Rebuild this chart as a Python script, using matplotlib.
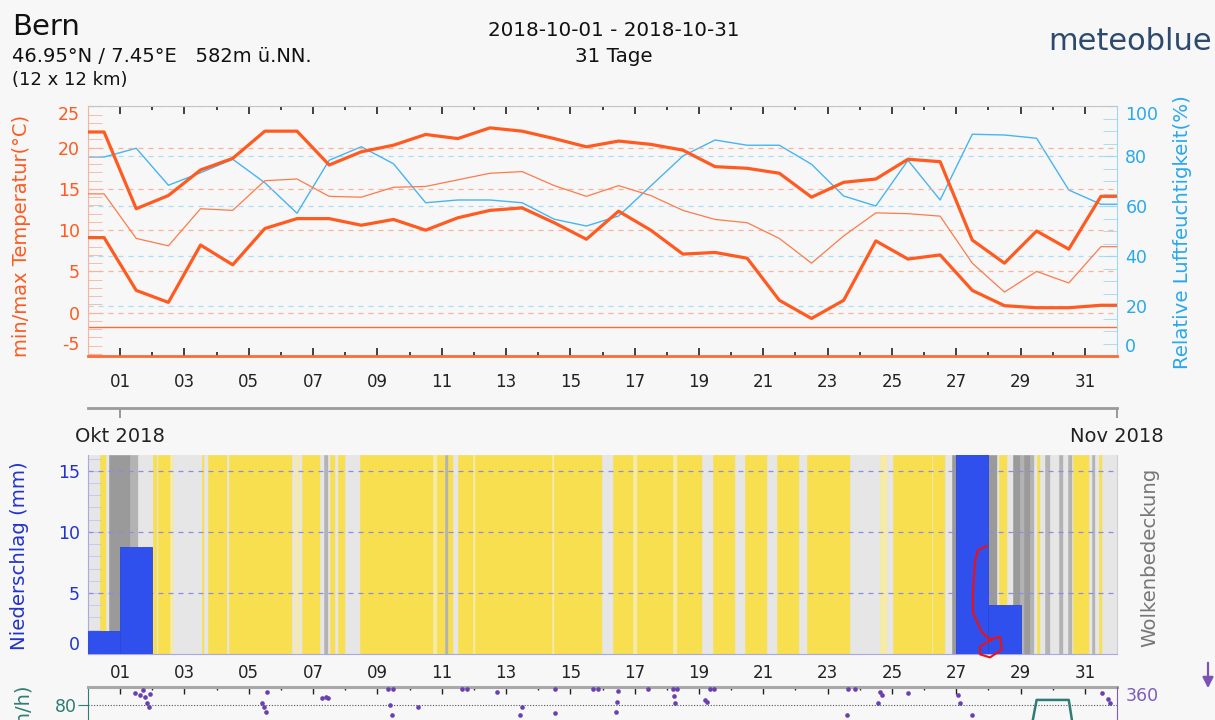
"""Bern, October 2018 - meteoblue style history chart."""
import matplotlib
matplotlib.use("Agg")
import matplotlib.pyplot as plt
from matplotlib.patches import FancyArrowPatch
from matplotlib.ticker import FixedLocator, MultipleLocator

W, H = 1215, 720
BG = "#f7f7f7"

# ── data: daily values (30 Sep .. 31 Oct 2018, plotted at noon) ─────────────
temp_max = [21.9, 12.6, 14.2, 17.3, 18.7, 22.0, 22.0, 17.9, 19.5, 20.3, 21.6,
            21.1, 22.4, 22.0, 21.1, 20.1, 20.8, 20.4, 19.7, 17.7, 17.5, 16.9,
            14.0, 15.8, 16.2, 18.6, 18.3, 8.8, 6.0, 9.9, 7.7, 14.1]
temp_min = [9.1, 2.7, 1.25, 8.2, 5.8, 10.2, 11.4, 11.4, 10.6, 11.3, 10.0,
            11.5, 12.4, 12.7, 10.9, 8.9, 12.3, 10.0, 7.1, 7.3, 6.6, 1.5,
            -0.7, 1.5, 8.7, 6.5, 7.0, 2.7, 0.85, 0.6, 0.6, 0.9]
temp_mean = [14.4, 9.0, 8.1, 12.6, 12.4, 16.0, 16.2, 14.1, 14.0, 15.2, 15.3,
             16.1, 16.9, 17.1, 15.4, 14.1, 15.4, 14.2, 12.4, 11.3, 10.9, 9.0,
             6.0, 9.3, 12.1, 12.0, 11.7, 6.0, 2.5, 5.0, 3.6, 8.0]
humidity = [79.6, 83.1, 68.3, 73.3, 78.7, 69.3, 57.1, 78.3, 83.7, 76.9, 61.3,
            62.4, 62.4, 61.3, 54.7, 52.0, 56.0, 68.0, 80.0, 86.4, 84.3, 84.3,
            76.7, 64.0, 60.0, 78.3, 62.4, 88.7, 88.4, 87.1, 66.4, 60.7]
# daily precipitation sums, bar spans day d .. d+1
precip = [1.9, 8.8, 0, 0, 0, 0, 0, 0, 0, 0, 0, 0, 0, 0, 0, 0, 0, 0, 0, 0, 0,
          0, 0, 0, 0, 0, 0, 19.0, 4.0, 0, 0, 0]
wind_max = [22, 30, 18, 15, 12, 14, 16, 13, 12, 14, 16, 15, 12, 13, 14, 12,
            15, 14, 13, 16, 15, 14, 17, 15, 22, 18, 16, 25, 30, 81.5, 81.5, 20]
wind_dir_day = [1.46, 1.62, 1.77, 1.93, 1.71, 1.83, 1.90, 5.57, 5.41, 5.47,
                5.53, 7.28, 7.40, 7.46, 9.33, 9.48, 9.39, 9.45, 10.26, 11.63,
                11.78, 12.72, 13.43, 13.50, 14.52, 14.52, 15.70, 15.86, 16.48,
                16.45, 16.42, 17.41, 18.19, 18.31, 18.22, 18.25, 19.19, 19.25,
                19.34, 19.47, 23.60, 23.63, 23.85, 24.63, 24.69, 24.56, 25.50,
                27.05, 27.11, 27.49, 31.53, 31.78, 31.72]
wind_dir_deg = [352, 350, 347, 351, 356, 340, 335, 354, 340, 335,
                328, 346, 347, 346, 357, 357, 337, 324, 335, 357,
                357, 354, 324, 335, 357, 327, 357, 357, 355,
                341, 328, 357, 357, 357, 348, 340, 343, 341,
                357, 357, 324, 357, 357, 354, 350, 340, 352,
                350, 340, 324, 352, 340, 345]

# cloud cover stripes: start day and class (Y clear, P thin, L light, M, D dark)
cloud_start = [0.00, 0.37, 0.56, 0.65, 1.31, 1.55, 2.02, 2.15, 2.18, 2.55,
               2.64, 3.54, 3.60, 3.73, 4.32, 4.38, 6.34, 6.45, 6.55, 6.65,
               7.21, 7.34, 7.46, 7.53, 7.68, 7.77, 7.99, 8.46, 10.73, 10.85,
               11.10, 11.20, 11.35, 11.50, 11.97, 12.03, 14.43, 14.48, 15.98,
               16.33, 16.95, 17.07, 18.19, 18.31, 19.10, 19.43, 20.12, 20.43,
               21.11, 21.42, 22.11, 22.36, 23.69, 24.63, 24.84, 25.03, 26.24,
               26.29, 26.65, 26.87, 28.26, 28.33, 28.58, 28.76, 28.98, 29.10,
               29.29, 29.42, 29.51, 29.60, 29.76, 29.91, 30.19, 30.32, 30.47,
               30.60, 30.63, 31.13, 31.22, 31.31, 31.44, 31.53]
cloud_kind = ["L", "Y", "L", "D", "M", "L", "Y", "L", "Y", "P",
              "L", "Y", "L", "Y", "L", "Y", "L", "P", "L", "Y",
              "L", "M", "L", "Y", "L", "Y", "L", "Y", "P", "Y",
              "M", "Y", "L", "Y", "P", "Y", "P", "Y", "L",
              "Y", "P", "Y", "P", "Y", "L", "Y", "L", "Y",
              "L", "Y", "L", "Y", "L", "P", "L", "Y", "P",
              "Y", "L", "D", "L", "Y", "L", "D", "M", "D",
              "M", "L", "Y", "L", "M", "L", "M", "L", "M",
              "L", "Y", "L", "M", "L", "Y", "L"]

# hand-drawn red mark in the precipitation panel
mark_x = [27.95, 27.67, 27.58, 27.52, 27.52, 27.80, 28.05, 28.36, 28.42, 28.05,
          27.74, 27.74, 28.11]
mark_y = [8.85, 8.5, 7.5, 5.0, 3.4, 1.77, 1.19, 1.43, 0.37, -0.28, -0.03, 0.62,
          1.19]

odd_days = list(range(1, 32, 2))
even_days = list(range(2, 32, 2))
day_labels = [f"{d:02d}" for d in odd_days]


def px_rect(x0, y0, x1, y1):
    return [x0 / W, 1 - y1 / H, (x1 - x0) / W, (y1 - y0) / H]


def extend(vals):
    # meteoblue carries the first / last daily value out to the frame edges
    return [vals[0]] + list(vals) + [vals[-1]]


days_mid = [k + 0.5 for k in range(len(temp_max))]
xs = [0] + days_mid + [32]

fig = plt.figure(figsize=(W / 100, H / 100), dpi=100, facecolor=BG)

# ── header ──────────────────────────────────────────────────────────────────
fig.text(12 / W, 1 - 27 / H, "Bern", fontsize=21, va="center", color="#111")
fig.text(12 / W, 1 - 57 / H, "46.95°N / 7.45°E   582m ü.NN.", fontsize=14,
         va="center", color="#111")
fig.text(12 / W, 1 - 80 / H, "(12 x 12 km)", fontsize=13, va="center", color="#111")
fig.text(614 / W, 1 - 31 / H, "2018-10-01 - 2018-10-31", fontsize=14.3,
         ha="center", va="center", color="#111")
fig.text(614 / W, 1 - 56 / H, "31 Tage", fontsize=14.3, ha="center", va="center",
         color="#111")
fig.text(1212 / W, 1 - 41 / H, "meteoblue", fontsize=22, ha="right",
         va="center", color="#2c4a6e")

# ── panel 1: temperature + humidity ─────────────────────────────────────────
T_COL = "#ff5a1f"
H_COL = "#2aa8ec"
ax_h = fig.add_axes(px_rect(88, 106, 1117, 356), facecolor=BG)
ax_t = fig.add_axes(px_rect(88, 106, 1117, 356), sharex=ax_h)
ax_t.set_zorder(ax_h.get_zorder() + 1)
ax_t.patch.set_visible(False)

ax_t.set_xlim(0, 32)
ax_t.set_ylim(-5.25, 25.05)
ax_h.set_ylim(0, 100)

for v in [0, 5, 10, 15, 20]:
    ax_t.axhline(v, color="#f9b39a", ls=(0, (4, 4)), lw=0.9, zorder=1)
for v in [20, 40, 60, 80, 100]:
    ax_h.axhline(v, color="#a9dcf6", ls=(0, (4, 4)), lw=0.9, zorder=1)
ax_t.axhline(-1.7, color="#ff6a35", lw=1.0, zorder=1)

ax_h.plot(xs, extend(humidity), color="#48b4f0", lw=1.0, zorder=3)
ax_t.plot(xs, extend(temp_mean), color="#ff7a4a", lw=0.9, zorder=3)
ax_t.plot(xs, extend(temp_max), color=T_COL, lw=2.3, zorder=4,
          solid_joinstyle="round")
ax_t.plot(xs, extend(temp_min), color=T_COL, lw=2.3, zorder=4,
          solid_joinstyle="round")

ax_h.yaxis.tick_right()
ax_h.xaxis.set_visible(False)
for s in ax_h.spines.values():
    s.set_visible(False)

ax_t.spines["left"].set_color("#f8b39c")
ax_t.spines["right"].set_color("#a0d8f2")
ax_t.spines["top"].set_color("#c4c4c4")
ax_t.spines["bottom"].set_color("#ff6a35")
ax_t.spines["bottom"].set_linewidth(2.0)

ax_t.set_yticks([-5, 0, 5, 10, 15, 20, 25])
ax_t.set_yticklabels(["-5", "0", "5", "10", "15", "20", "25"])
ax_t.yaxis.set_minor_locator(MultipleLocator(1))
ax_t.tick_params(axis="y", which="both", direction="in", length=10,
                 color="#f8b39c", labelcolor=T_COL, labelsize=12.5, pad=6)
yt = ax_t.yaxis.get_major_ticks()
yt[0].label1.set_verticalalignment("bottom")
yt[-1].label1.set_verticalalignment("top")

ax_h.set_yticks([0, 20, 40, 60, 80, 100])
ax_h.yaxis.set_minor_locator(MultipleLocator(5))
ax_h.tick_params(axis="y", which="both", direction="in", length=10,
                 color="#a0d8f2", labelcolor=H_COL, labelsize=12.5, pad=6)
ht = ax_h.yaxis.get_major_ticks()
ht[0].label2.set_verticalalignment("bottom")
ht[-1].label2.set_verticalalignment("top")

ax_t.xaxis.set_major_locator(FixedLocator(odd_days))
ax_t.xaxis.set_minor_locator(FixedLocator(even_days))
ax_t.set_xticklabels(day_labels)
ax_t.tick_params(axis="x", which="both", direction="in", top=True, bottom=True,
                 color="#222", width=1.2, labelsize=12, labelcolor="#222",
                 pad=12)
ax_t.tick_params(axis="x", which="major", length=6)
ax_t.tick_params(axis="x", which="minor", length=3)

fig.text(22 / W, 1 - 236 / H, "min/max Temperatur(°C)", rotation=90,
         fontsize=14, color=T_COL, ha="center", va="center")
fig.text(1183 / W, 1 - 232 / H, "Relative Luftfeuchtigkeit(%)", rotation=90,
         fontsize=14.2, color=H_COL, ha="center", va="center")

# ── month bar ──────────────────────────────────────────────────────────────
ax_m = fig.add_axes(px_rect(88, 407, 1117, 408))
ax_m.patch.set_visible(False)
ax_m.set_xlim(0, 32)
ax_m.set_yticks([])
for k in ["top", "left", "right"]:
    ax_m.spines[k].set_visible(False)
ax_m.spines["bottom"].set_color("#9a9a9a")
ax_m.spines["bottom"].set_linewidth(2.0)
ax_m.set_xticks([1, 32])
ax_m.set_xticklabels(["Okt 2018", "Nov 2018"])
ax_m.tick_params(axis="x", direction="out", length=7, color="#888", width=1.2,
                 labelsize=14, labelcolor="#222", pad=7)

# ── panel 2: precipitation + cloud cover ────────────────────────────────────
P_COL = "#2233cc"
cloud_colors = {"Y": "#f8df50", "P": "#f6eaa4", "L": "#e6e6e6",
                "M": "#b3b3b3", "D": "#9a9a9a"}
ax_p = fig.add_axes(px_rect(88, 455, 1117, 654), facecolor="#e6e6e6")
ax_p.set_xlim(0, 32)
ax_p.set_ylim(0, 16.3)
cloud_end = cloud_start[1:] + [32]
for s, e, k in zip(cloud_start, cloud_end, cloud_kind):
    ax_p.axvspan(s, e, facecolor=cloud_colors[k], edgecolor=cloud_colors[k],
                 lw=0.4, zorder=0)
for v in [5, 10, 15]:
    ax_p.axhline(v, color="#8c8ce0", ls=(0, (4, 4)), lw=0.9, zorder=2)
ax_p.bar(range(len(precip)), precip, width=1.0, align="edge", color="#3050ee",
         edgecolor="#2a46d8", lw=0.6, zorder=3)
ax_p.plot(mark_x, mark_y, color="#ee1111", lw=1.5, zorder=6, clip_on=False)

ax_p.spines["top"].set_visible(False)
ax_p.spines["left"].set_color("#a8a8e6")
ax_p.spines["bottom"].set_color("#a8a8e6")
ax_p.spines["right"].set_color("#d0d0d0")
ax_p.set_yticks([0, 5, 10, 15])
ax_p.yaxis.set_minor_locator(MultipleLocator(1))
ax_p.tick_params(axis="y", which="both", direction="in", length=9,
                 color="#c4c4ec", labelcolor=P_COL, labelsize=12.5, pad=6)
ax_p.yaxis.get_major_ticks()[0].label1.set_verticalalignment("bottom")
ax_p.xaxis.set_major_locator(FixedLocator(odd_days))
ax_p.set_xticklabels(day_labels)
ax_p.tick_params(axis="x", length=0, labelsize=12, labelcolor="#222", pad=7)

fig.text(20 / W, 1 - 556 / H, "Niederschlag (mm)", rotation=90, fontsize=14.2,
         color=P_COL, ha="center", va="center")
fig.text(1150 / W, 1 - 557 / H, "Wolkenbedeckung", rotation=90, fontsize=14.2,
         color="#777", ha="center", va="center")

# ── panel 3: wind (only the top edge is visible) ────────────────────────────
WS_COL = "#2e7d74"
WD_COL = "#6a3fb0"
ax_w = fig.add_axes(px_rect(88, 687, 1117, 970), facecolor=BG)
ax_w.set_xlim(0, 32)
ax_w.set_ylim(0, 85.4)
ax_w.axhline(80, color="#555", ls=(0, (1, 1.5)), lw=0.8, zorder=1)
ax_w.plot(xs, extend(wind_max), color=WS_COL, lw=1.8, zorder=3)
ax_d = ax_w.twinx()
ax_d.set_ylim(0, 360)
ax_d.scatter(wind_dir_day, wind_dir_deg, s=11, color=WD_COL, zorder=4, lw=0)

ax_w.spines["top"].set_color("#a8a8a8")
ax_w.spines["top"].set_linewidth(2.2)
ax_w.spines["left"].set_color(WS_COL)
ax_w.spines["right"].set_visible(False)
ax_d.spines["right"].set_color("#7d5cc0")
for k in ["top", "left", "bottom"]:
    ax_d.spines[k].set_visible(False)
ax_w.xaxis.tick_top()
ax_w.xaxis.set_major_locator(FixedLocator(odd_days))
ax_w.xaxis.set_minor_locator(FixedLocator(even_days))
ax_w.tick_params(axis="x", which="both", direction="in", labeltop=False,
                 color="#222", width=1.0)
ax_w.tick_params(axis="x", which="major", length=5)
ax_w.tick_params(axis="x", which="minor", length=2.5)
# only the top tick of each scale lies inside the picture
ax_w.set_yticks([80])
ax_w.tick_params(axis="y", direction="out", length=7, color=WS_COL,
                 labelcolor=WS_COL, labelsize=12.5, pad=1)
ax_d.set_yticks([360])
ax_d.tick_params(axis="y", length=0, labelcolor="#7d5cc0", labelsize=12.5,
                 pad=6)
ax_d.yaxis.get_major_ticks()[-1].label2.set_verticalalignment("top")

# the wind label runs off the bottom edge, as in the original
fig.text(25 / W, 1 - 686 / H, "Windgeschwindigkeit (km/h)", rotation=90,
         fontsize=14, color=WS_COL, ha="center", va="top")
fig.add_artist(FancyArrowPatch((1208 / W, 1 - 660 / H), (1208 / W, 1 - 691 / H),
                               transform=fig.transFigure, arrowstyle="-|>",
                               mutation_scale=16, color="#7a55b5", lw=1.6))

fig.savefig("out.png", dpi=100, facecolor=BG)
